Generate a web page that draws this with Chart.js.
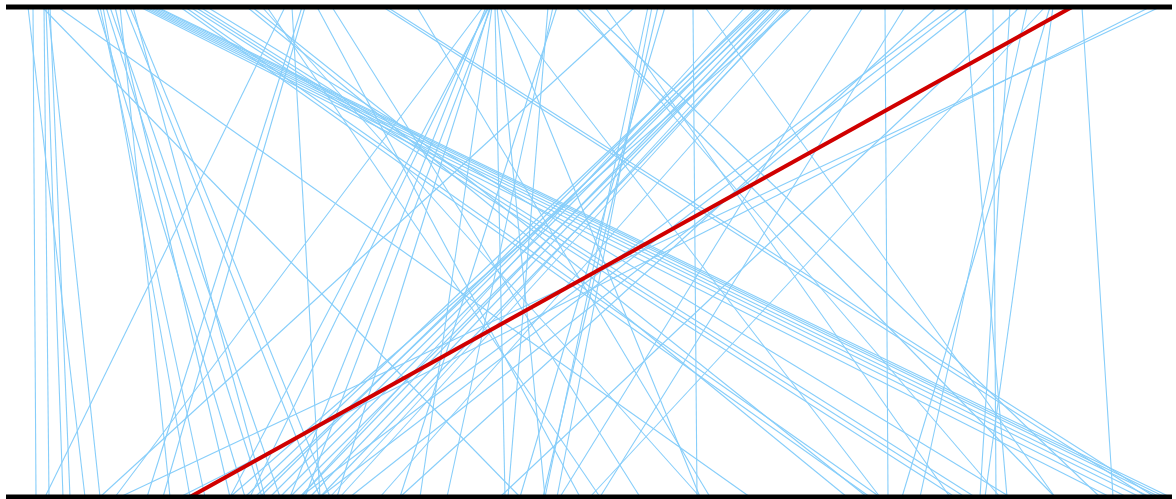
<!DOCTYPE html>
<html>
<head>
<meta charset="utf-8">
<script src="https://cdn.jsdelivr.net/npm/chart.js@4.4.1/dist/chart.umd.min.js"></script>
<style>
html, body { margin: 0; padding: 0; background: #fff; }
</style>
</head>
<body>
<canvas id="slope-chart" width="1176" height="499"></canvas>
<script>
// posicion arriba / abajo de cada linea
const topPos = [
  28, 33, 42, 44, 46, 48, 50, 58,
  97, 100, 103, 106, 110, 115, 120, 125, 130, 133,
  140, 143, 146, 149, 152, 155, 157,
  180, 185, 190, 195, 200, 207,
  247, 252, 262, 267,
  285, 292, 302, 305, 317, 332,
  383, 387, 417,
  483, 486, 488, 489, 490, 491, 492, 495, 497, 500, 503,
  548, 553, 557,
  575, 580, 587, 605, 635,
  648, 652, 658, 665,
  693, 705,
  745, 757, 760, 762, 767, 770, 772, 777, 780, 782, 787, 790, 793,
  813, 863, 885, 905, 937,
  953, 960, 965, 970, 993,
  1010, 1020, 1027, 1045, 1050, 1053, 1082,
  1150, 1160
];
const bottomPos = [
  85, 36, 520, 49, 63, 100, 70, 750,
  245, 205, 190, 262, 280, 230, 170, 320, 330, 265,
  1110, 1127, 1140, 1150, 1160, 1165, 1170,
  870, 880, 955, 965, 975, 1010,
  847, 867, 700, 600,
  45, 320, 147, 163, 580, 640,
  1147, 1155, 710,
  115, 290, 250, 230, 337, 305, 420, 505, 545, 700, 880,
  508, 447, 400,
  1055, 1000, 1100, 950, 100,
  545, 557, 543, 520,
  697, 1055,
  300, 260, 245, 270, 280, 255, 300, 310, 290, 330, 340, 320, 230,
  380, 560, 888, 600, 400,
  300, 320, 1007, 350, 996,
  980, 500, 920, 590, 902, 985, 1113,
  180, 120
];
// linea destacada
const redTop = 1072;
const redBottom = 190;
// ejes (arriba y abajo)
const axisStart = 6;
const axisEnd = 1172;

const datasets = [];
datasets.push({
  data: [{ x: axisStart, y: 1 }, { x: axisEnd, y: 1 }],
  borderColor: '#000',
  borderWidth: 5
});
datasets.push({
  data: [{ x: axisStart, y: 0 }, { x: axisEnd, y: 0 }],
  borderColor: '#000',
  borderWidth: 5
});
datasets.push({
  data: [{ x: redTop, y: 1 }, { x: redBottom, y: 0 }],
  borderColor: '#d00000',
  borderWidth: 4
});
topPos.forEach((t, i) => {
  datasets.push({
    data: [{ x: t, y: 1 }, { x: bottomPos[i], y: 0 }],
    borderColor: '#87cefa',
    borderWidth: 1.1
  });
});
datasets.forEach(d => {
  d.showLine = true;
  d.pointRadius = 0;
  d.clip = false;
  d.borderCapStyle = 'butt';
});

const ctx = document.getElementById('slope-chart').getContext('2d');
const myChart = new Chart(ctx, {
  type: 'scatter',
  data: { datasets: datasets },
  options: {
    responsive: false,
    animation: false,
    layout: { padding: { top: 7, bottom: 2, left: 0, right: 0 } },
    scales: {
      x: { type: 'linear', min: 0, max: 1176, display: false },
      y: { min: 0, max: 1, display: false }
    },
    plugins: {
      legend: { display: false },
      tooltip: { enabled: false }
    }
  }
});
</script>
</body>
</html>
